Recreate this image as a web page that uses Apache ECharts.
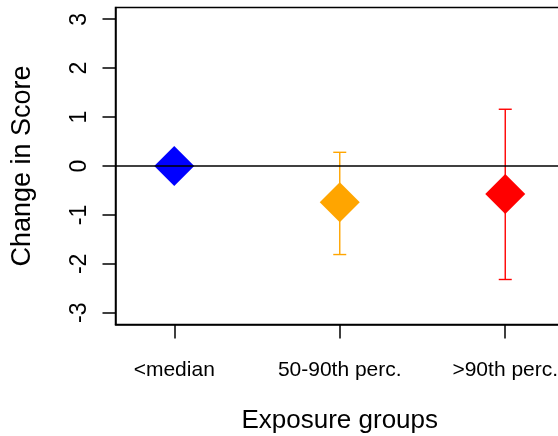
<!DOCTYPE html>
<html>
<head>
<meta charset="utf-8">
<script src="https://cdn.jsdelivr.net/npm/echarts@6/dist/echarts.min.js"></script>
<style>html,body{margin:0;padding:0;background:#fff}#c{width:558px;height:436px}</style>
</head>
<body>
<div id="c"></div>
<script>
const categories = ['<median', '50-90th perc.', '>90th perc.'];
const positions = [1, 2, 3];
const means = [0, -0.74, -0.57];
const lower = [null, -1.81, -2.32];
const upper = [null, 0.28, 1.16];
const colors = ['#0000FF', '#FFA500', '#FF0000'];
const yTicks = [-3, -2, -1, 0, 1, 2, 3];

const FONT = 'Liberation Sans, Arial, Helvetica, sans-serif';
const LW = 1.5;
const chart = echarts.init(document.getElementById('c'), null, {renderer: 'canvas'});

const pointData = positions.map((p, i) => ({value: [p, means[i]], itemStyle: {color: colors[i], opacity: 1}}));
const barData = [];
positions.forEach((p, i) => {
  if (lower[i] !== null) barData.push({value: [p, lower[i], upper[i]], itemStyle: {color: colors[i]}});
});

chart.setOption({
  animation: false,
  grid: {left: 115.5, top: 7.5, right: -6, height: 317, outerBoundsMode: 'none', containLabel: false,
         show: true, borderColor: '#000', borderWidth: LW, backgroundColor: 'transparent'},
  xAxis: {
    type: 'value', min: 0.645, max: 3.355,
    name: 'Exposure groups', nameLocation: 'middle', nameGap: 83,
    nameTextStyle: {fontFamily: FONT, fontSize: 26, color: '#000'},
    axisLine: {show: true, onZero: false, lineStyle: {color: '#000', width: LW}},
    splitLine: {show: false},
    axisTick: {show: true, length: 14, lineStyle: {color: '#000', width: LW}, customValues: positions},
    axisLabel: {
      customValues: positions, margin: 35, fontFamily: FONT, fontSize: 21, color: '#000',
      formatter: v => categories[positions.indexOf(Math.round(v))] || ''
    }
  },
  yAxis: {
    type: 'value', min: -3.24, max: 3.24,
    name: 'Change in Score', nameLocation: 'middle', nameGap: 79,
    nameTextStyle: {fontFamily: FONT, fontSize: 27, color: '#000'},
    axisLine: {show: true, onZero: false, lineStyle: {color: '#000', width: LW}},
    splitLine: {show: false},
    axisTick: {show: true, length: 13, lineStyle: {color: '#000', width: LW}, customValues: yTicks},
    axisLabel: {customValues: yTicks, rotate: 90, margin: 24, fontFamily: FONT, fontSize: 23, color: '#000',
                hideOverlap: false}
  },
  series: [
    {
      type: 'custom', data: barData, z: 2,
      renderItem: (params, api) => {
        const x = api.value(0);
        const pLo = api.coord([x, api.value(1)]);
        const pHi = api.coord([x, api.value(2)]);
        const c = api.visual('color');
        const cap = 6.5;
        const st = {stroke: c, lineWidth: 1.4};
        return {type: 'group', children: [
          {type: 'line', shape: {x1: pLo[0], y1: pLo[1], x2: pHi[0], y2: pHi[1]}, style: st},
          {type: 'line', shape: {x1: pLo[0] - cap, y1: pLo[1], x2: pLo[0] + cap, y2: pLo[1]}, style: st},
          {type: 'line', shape: {x1: pHi[0] - cap, y1: pHi[1], x2: pHi[0] + cap, y2: pHi[1]}, style: st}
        ]};
      }
    },
    {
      type: 'scatter', data: pointData, symbol: 'diamond', symbolSize: 40, z: 3,
      itemStyle: {opacity: 1},
      markLine: {
        silent: true, symbol: ['none', 'none'], z: 10,
        label: {show: false},
        lineStyle: {color: '#000', width: LW, type: 'solid'},
        data: [{yAxis: 0}]
      }
    }
  ]
});
</script>
</body>
</html>
